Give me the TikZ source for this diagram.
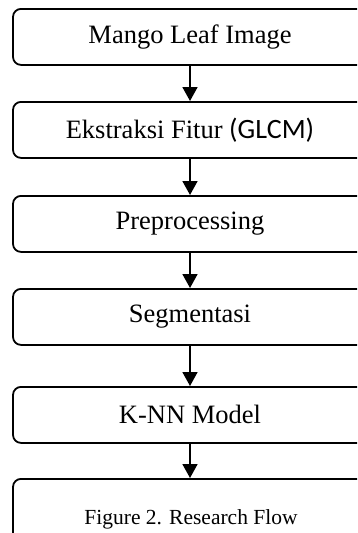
\documentclass[tikz,border=0pt]{standalone}
\usepackage{fontspec}
\setmainfont{Liberation Serif}
\newfontfamily\glcmfont{Carlito}
\usetikzlibrary{arrows.meta}
\newcommand{\boxtext}[1]{\raisebox{-2pt}{#1}}
\begin{document}
\begin{tikzpicture}[x=1pt,y=-1pt,
  stepbox/.style={draw=black,line width=1.8pt,rounded corners=8pt,minimum width=354pt,minimum height=56pt,anchor=north,inner sep=0pt,font=\fontsize{26.5}{28}\selectfont},
  flow/.style={line width=1.8pt,-{Triangle[length=14pt,width=15pt]}}]
\useasboundingbox (0,0) rectangle (357,533);
\clip (0,0) rectangle (357,533);
\node[stepbox] (a) at (190,8) {\boxtext{Mango Leaf Image}};
\node[stepbox] (b) at (190,101) {\boxtext{Ekstraksi Fitur {\glcmfont\fontsize{28}{30}\selectfont(GLCM)}}};
\node[stepbox] (c) at (190,195) {\boxtext{Preprocessing}};
\node[stepbox] (d) at (190,288) {\boxtext{Segmentasi}};
\node[stepbox] (e) at (190,386) {\boxtext{K-NN Model}};
\node[stepbox,minimum height=80pt] (f) at (190,478) {};
\node[font=\fontsize{21.5}{23}\selectfont] (cap) at (191,519) {Figure 2. Research Flow};
\draw[flow] (a) -- (b);
\draw[flow] (b) -- (c);
\draw[flow] (c) -- (d);
\draw[flow] (d) -- (e);
\draw[flow] (e) -- (f);
\end{tikzpicture}
\end{document}
